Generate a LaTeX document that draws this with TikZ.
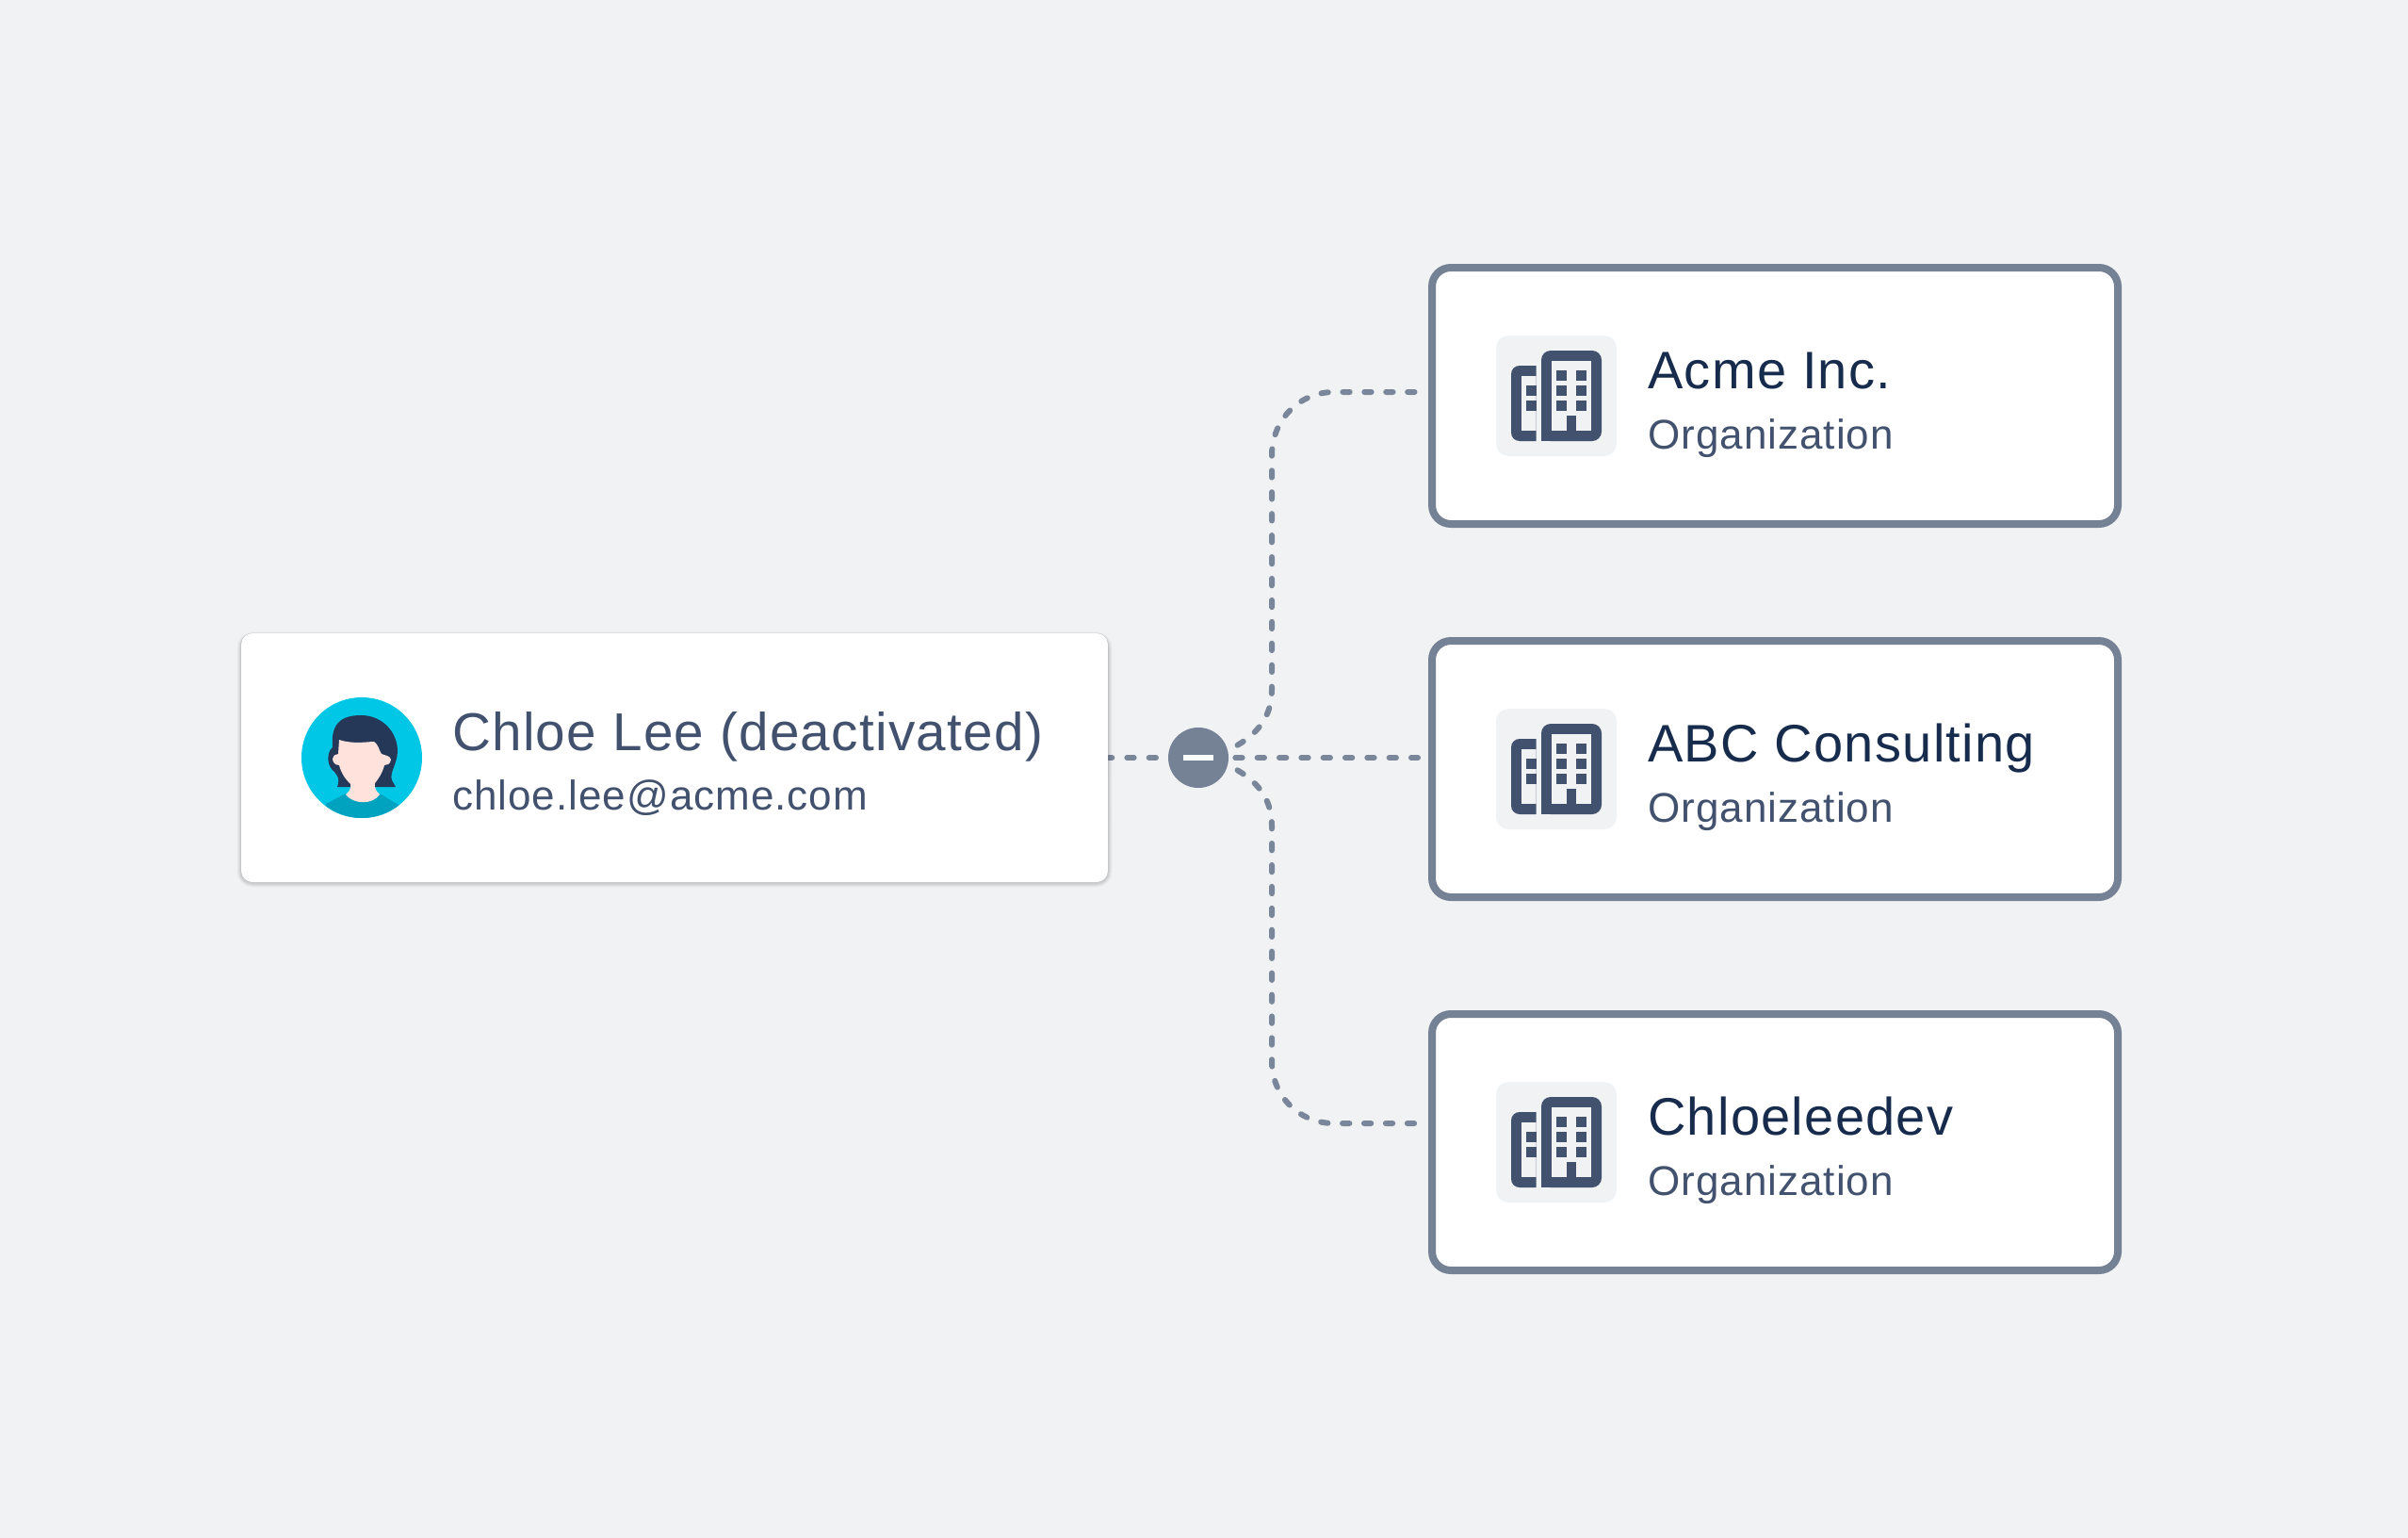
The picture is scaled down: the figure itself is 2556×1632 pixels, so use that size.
\documentclass[tikz,border=0pt]{standalone}
\usepackage{fontspec}
\setmainfont[LetterSpace=2.3]{Liberation Sans}
\definecolor{pagebg}{HTML}{F0F2F4}
\definecolor{slate}{HTML}{758195}
\definecolor{dashc}{HTML}{7A869A}
\definecolor{ink}{HTML}{172B4D}
\definecolor{sub}{HTML}{42526E}
\definecolor{tile}{HTML}{F0F2F4}
\definecolor{teal}{HTML}{00C7E6}
\definecolor{tealdk}{HTML}{00A3BF}
\definecolor{hair}{HTML}{253858}
\definecolor{skin}{HTML}{FFE2DB}
\definecolor{shade}{HTML}{5A6B8C}
\tikzset{
  x=1pt,y=-1pt,
  orgbox/.style={draw=slate,line width=8pt,fill=white,rounded corners=20pt},
  link/.style={draw=dashc,line width=6pt,line cap=round,dash pattern=on 7.33pt off 16pt},
  curvedlink/.style={link,dash pattern=on 7.33pt off 15.6pt},
  title/.style={anchor=base west,inner sep=0pt,font=\fontsize{56}{60}\selectfont,text=ink},
  subtitle/.style={anchor=base west,inner sep=0pt,font=\fontsize{44}{48}\selectfont,text=sub},
}
\newcommand{\orgcard}[4]{%
  % card frame, icon tile, building glyphs and captions
  \draw[orgbox] (1520,#1) rectangle (2248,#1+272);
  \begin{scope}[shift={(0,#1)}]
    \fill[tile,rounded corners=13pt] (1588,72) rectangle (1716,200);
    % low building, open on its right side
    \begin{scope}
      \clip (1600,100) rectangle (1630.7,190);
      \fill[sub,rounded corners=9pt] (1604,104) rectangle (1650,184);
      \fill[tile] (1614.7,114.7) rectangle (1640,173.3);
    \end{scope}
    \foreach \yy in {125.3,141.3}{\fill[sub] (1620,\yy) rectangle (1630.7,\yy+10.7);}
    % tall building
    \fill[sub,rounded corners=10pt] (1636,88) rectangle (1700,184);
    \fill[sub] (1636,165) rectangle (1650,184);
    \fill[tile] (1646.7,98.7) rectangle (1689.3,173.3);
    \foreach \yy in {109.3,125.3,141.3}{
      \fill[sub] (1652,\yy) rectangle (1662.7,\yy+10.7);
      \fill[sub] (1673.3,\yy) rectangle (1684,\yy+10.7);}
    \fill[sub] (1662.7,157.3) rectangle (1673.3,173.5);
  \end{scope}
  \node[title] (#4t) at (1749,#1+128) {#2};
  \node[subtitle] (#4s) at (1749,#1+192) {#3};
}
\begin{document}
\begin{tikzpicture}
\useasboundingbox (0,0) rectangle (2556,1632);
\fill[pagebg] (0,0) rectangle (2556,1632);

\coordinate (person) at (1173,804);
\coordinate (acme) at (1504,416);
\coordinate (abc) at (1505,804);
\coordinate (dev) at (1504,1192);
\coordinate (hubc) at (1272,804);

% connectors: the one from the person's card runs under card and button
\draw[link] (person) -- (hubc);

% the person's card, with a soft edge that is heavier below
\foreach \w/\o in {9/.025,7/.03,5/.04,3/.06}{
  \draw[shade,line width=\w pt,opacity=\o,rounded corners=12pt] (256,675) rectangle (1176,937);}
\draw[shade,line width=1pt,opacity=.10,rounded corners=12pt] (256,672) rectangle (1176,936);
\fill[white,rounded corners=12pt] (256,672) rectangle (1176,936);

% avatar
\fill[teal] (384,804) circle (64);
\begin{scope}
  \clip (384,804) circle (64);
  \fill[tealdk] (346,853) -- (367,842) -- (403,842) -- (423,854) -- (430,880) -- (340,880) -- cycle;
\end{scope}
\fill[hair] (358,835)
  .. controls (362,825) and (356,820) .. (352,816)
  .. controls (347,810) and (347,798) .. (353,793)
  .. controls (351,770) and (360,759) .. (383,759)
  .. controls (407,759) and (422,778) .. (422,797)
  .. controls (422,810) and (413,820) .. (416,828)
  -- (420,835) -- (398,835) -- (370,835) -- cycle;
\fill[skin] (360,785)
  .. controls (375,790) and (390,787) .. (397,787)
  .. controls (402,790) and (402,796) .. (405,800)
  .. controls (410,802) and (414,802) .. (415,806)
  .. controls (414,811) and (411,812) .. (408,812)
  .. controls (406,820) and (402,826) .. (398,831)
  .. controls (397,837) and (400,840) .. (403,843)
  .. controls (396,854) and (375,854) .. (367,843)
  .. controls (370,840) and (373,838) .. (372,832)
  .. controls (366,826) and (362,820) .. (360,812)
  .. controls (355,812) and (353,808) .. (353,805)
  .. controls (353,802) and (356,800) .. (359,800) -- cycle;

% organization cards
\orgcard{284}{Acme Inc.}{Organization}{a}
\orgcard{680}{ABC Consulting}{Organization}{b}
\orgcard{1076}{Chloeleedev}{Organization}{c}

% connectors fanning out of the collapse button
\draw[link] (1311.3,804) -- (abc);
\draw[curvedlink] (1313.5,790.7) .. controls (1335,778) and (1350,760) .. (1350,732) -- (1350,483)
  .. controls (1350,446) and (1379,416) .. (1416,416) -- (acme);
\draw[curvedlink] (1313.5,817.3) .. controls (1335,830) and (1350,848) .. (1350,876) -- (1350,1126)
  .. controls (1350,1163) and (1379,1192) .. (1416,1192) -- (dev);

% collapse button
\node[circle,fill=slate,minimum size=64pt,inner sep=0pt] (hub) at (hubc) {};
\fill[white] (1256,801) rectangle (1288,807);

% captions of the person's card
\node[anchor=base west,inner sep=0pt,font=\fontsize{56.6}{60}\selectfont,text=sub] (pname) at (480,796) {Chloe Lee (deactivated)};
\node[subtitle] (pmail) at (480,859.5) {chloe.lee@acme.com};
\end{tikzpicture}
\end{document}
